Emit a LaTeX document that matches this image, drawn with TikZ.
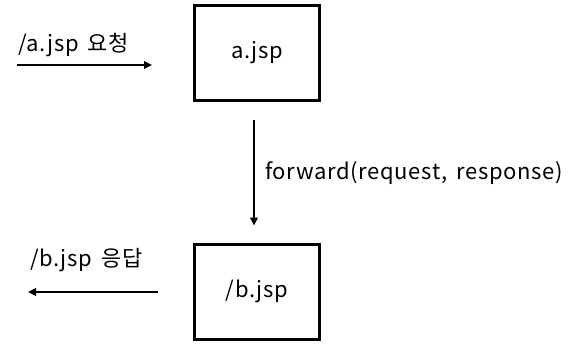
\documentclass[tikz,border=0pt]{standalone}
\usepackage{fontspec}
\setmainfont{Noto Sans CJK KR}[LetterSpace=3, WordSpace=1.6]
\usetikzlibrary{arrows.meta}
\begin{document}
\begin{tikzpicture}[
  x=1pt, y=-1pt,
  jspbox/.style = {draw, line width=3pt, minimum width=125pt, minimum height=95pt, font=\fontsize{22}{26}\selectfont},
  flow/.style = {-{Triangle[length=8pt,width=7.5pt]}, line width=2.6pt},
  flowlbl/.style = {font=\fontsize{22}{26}\selectfont, inner sep=0pt, anchor=west}
]
  \useasboundingbox (0,0) rectangle (569,348);
  % boxes
  \node[jspbox] (ajsp) at (257,53) {a.jsp};
  \node[jspbox] (bjsp) at (257,291.5) {/b.jsp};
  % request / response ends
  \coordinate (reqin) at (17,65);
  \coordinate (reqout) at (152,65);
  \coordinate (resin) at (158,292);
  \coordinate (resout) at (28,292);
  % arrows
  \draw[flow] (reqin) -- (reqout);
  \draw[flow] (resin) -- (resout);
  \draw[flow, shorten <=18pt, shorten >=17pt] ([xshift=-3pt]ajsp.south) -- ([xshift=-3pt]bjsp.north);
  % labels
  \node[flowlbl] (reqlbl) at (18,45) {/a.jsp 요청};
  \node[flowlbl] (reslbl) at (30,260) {/b.jsp 응답};
  \node[flowlbl] (fwdlbl) at (265,173) {forward(request, response)};
\end{tikzpicture}
\end{document}
